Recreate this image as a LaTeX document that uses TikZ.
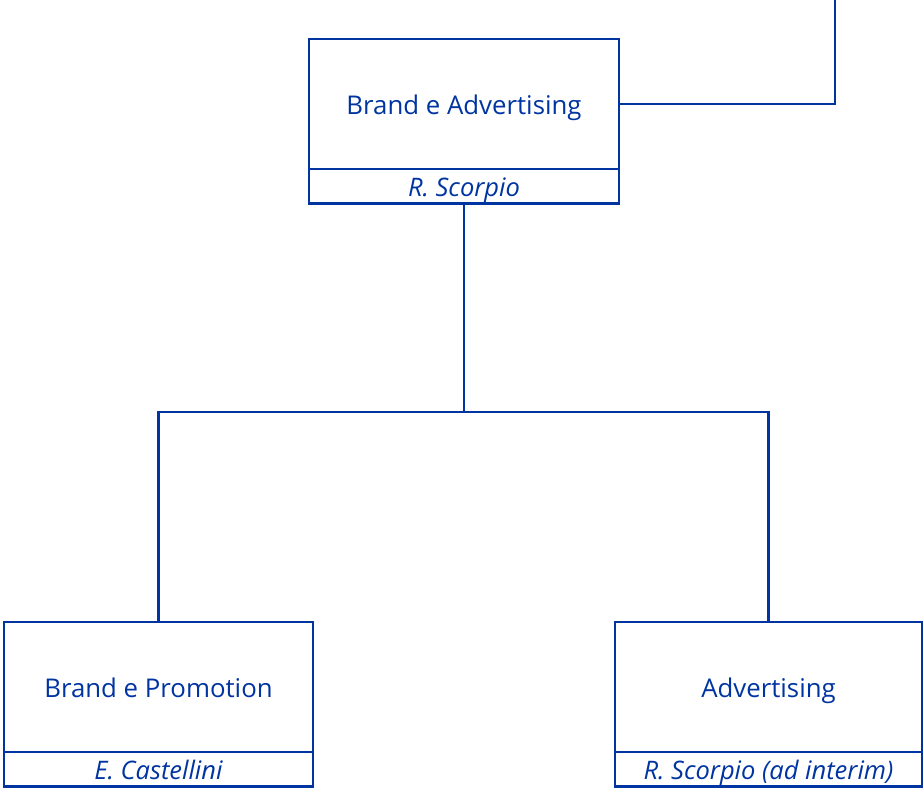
\documentclass[tikz,border=0pt]{standalone}
\usepackage{fontspec}
\setmainfont{Open Sans}
\definecolor{cblue}{RGB}{0,52,160}
\begin{document}
\begin{tikzpicture}[x=1pt,y=-1pt,
  ln/.style={draw=cblue,line width=2.4pt},
  titlebox/.style={ln,rectangle,inner sep=0pt,outer sep=0pt,minimum height=130pt,text height=20pt,text depth=0pt,text=cblue,font=\fontsize{25.8}{30}\selectfont},
  namebox/.style={ln,rectangle,inner sep=0pt,outer sep=0pt,minimum height=34.5pt,text height=21pt,text depth=0pt,text=cblue,font=\fontsize{25.5}{30}\selectfont\itshape}]
\useasboundingbox (0,0) rectangle (923,793);
\node[titlebox,minimum width=310pt] (tt) at (464,104) {Brand e Advertising};
\node[namebox,minimum width=310pt,anchor=north] (tn) at (tt.south) {R. Scorpio};
\node[titlebox,minimum width=309pt] (lt) at (158.5,687) {Brand e Promotion};
\node[namebox,minimum width=309pt,anchor=north] (ln) at (lt.south) {E. Castellini};
\node[titlebox,minimum width=307pt] (rt) at (768.5,687) {Advertising};
\node[namebox,minimum width=307pt,anchor=north] (rn) at (rt.south) {R. Scorpio (ad interim)};
\coordinate (bus) at (464,412);
\coordinate (up) at (835,0);
\draw[ln] (tn.south) -- (bus);
\draw[ln] (lt.north) |- (bus) -| (rt.north);
\draw[ln] (tt.east) -| (up);
\end{tikzpicture}
\end{document}
